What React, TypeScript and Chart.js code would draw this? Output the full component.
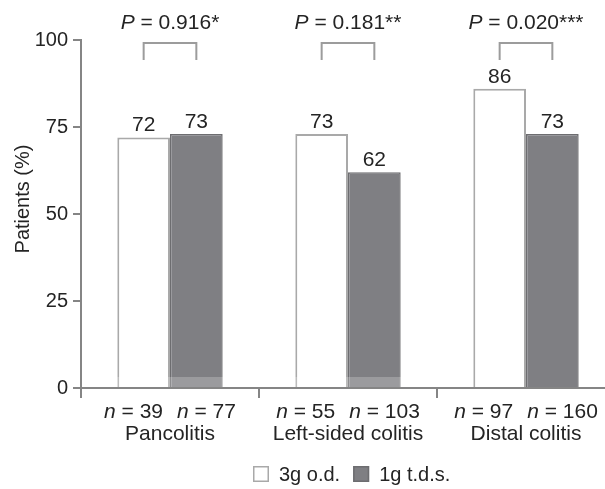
import React, { useEffect, useRef } from 'react';
import { Chart, registerables } from 'chart.js';

Chart.register(...registerables);

const categories = ['Pancolitis', 'Left-sided colitis', 'Distal colitis'];
const seriesLabels = ['3g o.d.', '1g t.d.s.'];
const odValues = [72, 73, 86];
const tdsValues = [73, 62, 73];
const odN = [39, 55, 97];
const tdsN = [77, 103, 160];
const pValues = ['0.916*', '0.181**', '0.020***'];
const yTicks = [0, 25, 50, 75, 100];
const yTitle = 'Patients (%)';

const FONT = "'Liberation Sans', Arial, Helvetica, sans-serif";
const TEXT = '#242424';
const AXIS = '#858585';
const WHITE_FILL = '#ffffff';
const WHITE_BORDER = '#a9a9a9';
const GREY_FILL = '#7f7f83';
const GREY_BORDER = '#6d6d70';

function drawSegments(ctx: CanvasRenderingContext2D, segs: { t: string; italic?: boolean }[], cx: number, y: number, size: number, gap = 0) {
  const widths = segs.map((s) => {
    ctx.font = `${s.italic ? 'italic ' : ''}${size}px ${FONT}`;
    return s.t === '\u2003' ? gap : ctx.measureText(s.t).width;
  });
  const total = widths.reduce((a, b) => a + b, 0);
  let x = cx - total / 2;
  ctx.textAlign = 'left';
  ctx.textBaseline = 'alphabetic';
  segs.forEach((s, i) => {
    if (s.t !== '\u2003') {
      ctx.font = `${s.italic ? 'italic ' : ''}${size}px ${FONT}`;
      ctx.fillText(s.t, x, y);
    }
    x += widths[i];
  });
}

const annotations = {
  id: 'annotations',
  afterDraw(chart: any) {
    const ctx: CanvasRenderingContext2D = chart.ctx;
    const xs = chart.scales.x;
    const area = chart.chartArea;
    const m0 = chart.getDatasetMeta(0);
    const m1 = chart.getDatasetMeta(1);
    ctx.save();
    ctx.fillStyle = TEXT;

    // watermark band near the base
    ctx.fillStyle = 'rgba(255,255,255,0.22)';
    ctx.fillRect(area.left + 2, area.bottom - 11, 356, 10);
    ctx.fillStyle = TEXT;

    // y title
    ctx.save();
    ctx.translate(23, 199);
    ctx.rotate(-Math.PI / 2);
    ctx.font = `20px ${FONT}`;
    ctx.textAlign = 'center';
    ctx.textBaseline = 'middle';
    ctx.fillText(yTitle, 0, 0);
    ctx.restore();

    // value labels
    ctx.font = `21px ${FONT}`;
    ctx.textAlign = 'center';
    ctx.textBaseline = 'alphabetic';
    [m0, m1].forEach((meta, di) => {
      const vals = di === 0 ? odValues : tdsValues;
      meta.data.forEach((bar: any, i: number) => {
        ctx.fillText(String(vals[i]), bar.x, bar.y - 6);
      });
    });

    categories.forEach((_, i) => {
      const cx = xs.getPixelForValue(i);
      const b0 = m0.data[i];
      const b1 = m1.data[i];
      // n labels
      drawSegments(
        ctx,
        [
          { t: 'n', italic: true },
          { t: ` = ${odN[i]}` },
          { t: '\u2003' },
          { t: 'n', italic: true },
          { t: ` = ${tdsN[i]}` },
        ],
        cx,
        418,
        21,
        14
      );
      // P labels
      const bx = (b0.x + b1.x) / 2;
      drawSegments(ctx, [{ t: 'P', italic: true }, { t: ` = ${pValues[i]}` }], bx, 29, 21);
      // brackets
      ctx.strokeStyle = '#9c9c9c';
      ctx.lineWidth = 2;
      ctx.beginPath();
      ctx.moveTo(b0.x, 60);
      ctx.lineTo(b0.x, 43);
      ctx.lineTo(b1.x, 43);
      ctx.lineTo(b1.x, 60);
      ctx.stroke();
    });

    // legend
    let lx = 253;
    const boxTop = 466;
    const box = 16;
    ctx.font = `20px ${FONT}`;
    ctx.textAlign = 'left';
    ctx.textBaseline = 'alphabetic';
    seriesLabels.forEach((lab, i) => {
      ctx.fillStyle = i === 0 ? WHITE_FILL : GREY_FILL;
      ctx.fillRect(lx, boxTop, box, box);
      ctx.strokeStyle = i === 0 ? WHITE_BORDER : GREY_BORDER;
      ctx.lineWidth = 1.5;
      ctx.strokeRect(lx + 0.75, boxTop + 0.75, box - 1.5, box - 1.5);
      lx += box + 10;
      ctx.fillStyle = TEXT;
      ctx.fillText(lab, lx, boxTop + 15);
      lx += ctx.measureText(lab).width + 13;
    });
    ctx.restore();
  },
};

export default function App() {
  const ref = useRef<HTMLCanvasElement | null>(null);
  useEffect(() => {
    if (!ref.current) return;
    const chart = new Chart(ref.current, {
      type: 'bar',
      data: {
        labels: categories,
        datasets: [
          {
            label: seriesLabels[0],
            data: odValues,
            backgroundColor: WHITE_FILL,
            borderColor: WHITE_BORDER,
            borderWidth: 2,
            categoryPercentage: 0.592,
            barPercentage: 1,
          },
          {
            label: seriesLabels[1],
            data: tdsValues,
            backgroundColor: GREY_FILL,
            borderColor: GREY_BORDER,
            borderWidth: 1.5,
            categoryPercentage: 0.592,
            barPercentage: 1,
          },
        ],
      },
      options: {
        responsive: false,
        animation: false,
        devicePixelRatio: 1,
        layout: { padding: { top: 40, right: 5, left: 0, bottom: 0 } },
        plugins: { legend: { display: false }, tooltip: { enabled: false } },
        scales: {
          x: {
            type: 'category',
            grid: {
              display: true,
              drawOnChartArea: false,
              drawTicks: true,
              tickLength: 10,
              offset: true,
              color: AXIS,
              lineWidth: 2,
            },
            border: { display: true, color: AXIS, width: 2 },
            ticks: { font: { family: FONT, size: 21 }, color: TEXT, padding: 24, maxRotation: 0 },
            afterFit: (s: any) => {
              s.height = 101;
            },
          },
          y: {
            min: 0,
            max: 100,
            afterBuildTicks: (s: any) => {
              s.ticks = yTicks.map((v) => ({ value: v }));
            },
            grid: {
              drawOnChartArea: false,
              drawTicks: true,
              tickLength: 8,
              color: AXIS,
              lineWidth: 2,
            },
            border: { display: true, color: AXIS, width: 2 },
            ticks: { font: { family: FONT, size: 20 }, color: TEXT, padding: 5 },
            afterFit: (s: any) => {
              s.width = 81;
            },
          },
        },
      },
      plugins: [annotations],
    });
    return () => chart.destroy();
  }, []);
  return (
    <div
      style={{
        position: 'fixed',
        left: 0,
        top: 0,
        width: 605,
        height: 489,
        overflow: 'hidden',
        background: '#fff',
      }}
    >
      <canvas ref={ref} width={620} height={489} style={{ display: 'block' }} />
    </div>
  );
}
